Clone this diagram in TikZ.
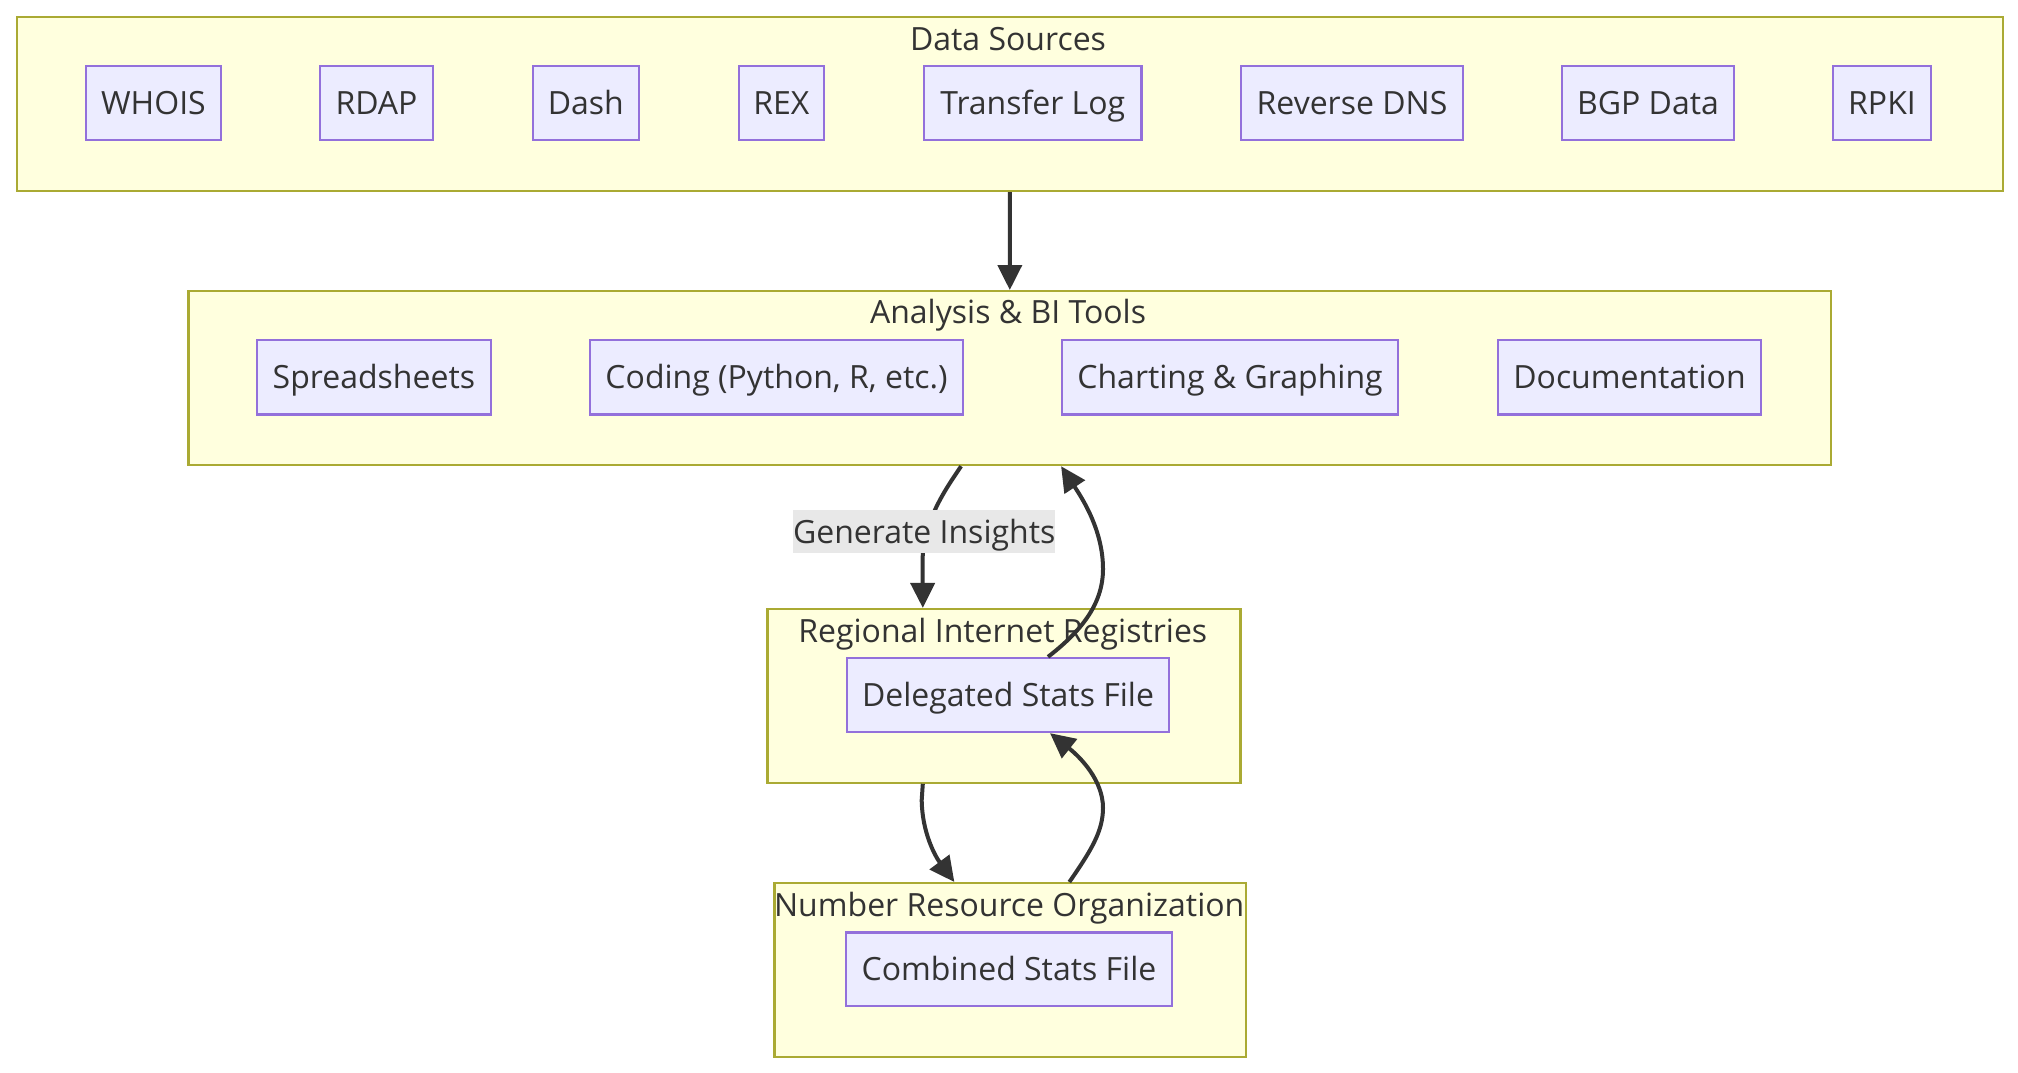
\documentclass[tikz,border=0pt]{standalone}
\usepackage{fontspec}
\setmainfont{Open Sans}
\usetikzlibrary{arrows.meta}
\definecolor{clfill}{HTML}{FFFFDE}
\definecolor{cldraw}{HTML}{AAAA33}
\definecolor{ndfill}{HTML}{ECECFF}
\definecolor{nddraw}{HTML}{9370DB}
\definecolor{txt}{HTML}{333333}
\definecolor{lblbg}{HTML}{E8E8E8}
\tikzset{
  fnt/.style={font=\fontsize{32}{38}\selectfont, text height=22.8pt, text depth=0pt},
  cluster/.style={draw=cldraw, fill=clfill, line width=2.2pt, inner sep=0pt, anchor=north west},
  cltitle/.style={text=txt, inner sep=0pt, fnt},
  nodebox/.style={draw=nddraw, fill=ndfill, line width=2.2pt, inner sep=0pt, text=txt, fnt},
  edge/.style={draw=txt, line width=4pt, -{Triangle[length=25pt,width=24pt]}},
  lbl/.style={fill=lblbg, text=txt, inner sep=0pt, fnt}
}
\begin{document}
\begin{tikzpicture}[x=1pt,y=-1pt]
\useasboundingbox (0,0) rectangle (2018,1072);
% clusters
\node[cluster, minimum width=1986.5pt, minimum height=174.4pt] (ds) at (15.5,15.6) {};
\node[cltitle] (dst) at (1008,39.2) {Data Sources};
\node[cluster, minimum width=1642.6pt, minimum height=174pt] (ana) at (187.4,290) {};
\node[cltitle] (anat) at (1008,312.5) {Analysis \& BI Tools};
\node[cluster, minimum width=473pt, minimum height=173.7pt] (rir) at (766.3,607.9) {};
\node[cltitle] (rirt) at (1002.8,631) {Regional Internet Registries};
\node[cluster, minimum width=471.7pt, minimum height=173.8pt] (nro) at (773.3,882) {};
\node[cltitle] (nrot) at (1009.2,904.8) {Number Resource Organization};
% data source nodes
\node[nodebox, minimum width=135.3pt, minimum height=74.3pt] (whois) at (153.4,102.9) {WHOIS};
\node[nodebox, minimum width=113pt, minimum height=74.3pt] (rdap) at (376.5,102.9) {RDAP};
\node[nodebox, minimum width=106.4pt, minimum height=74.3pt] (dash) at (585.8,102.9) {Dash};
\node[nodebox, minimum width=85.3pt, minimum height=74.3pt] (rex) at (781.4,102.9) {REX};
\node[nodebox, minimum width=217.5pt, minimum height=74.3pt] (tlog) at (1032.8,102.9) {Transfer Log};
\node[nodebox, minimum width=222pt, minimum height=74.3pt] (rdns) at (1352,102.9) {Reverse DNS};
\node[nodebox, minimum width=172pt, minimum height=74.3pt] (bgp) at (1648,102.9) {BGP Data};
\node[nodebox, minimum width=98pt, minimum height=74.3pt] (rpki) at (1882,102.9) {RPKI};
% analysis nodes
\node[nodebox, minimum width=233.7pt, minimum height=74.6pt] (sheets) at (373.9,377.1) {Spreadsheets};
\node[nodebox, minimum width=373pt, minimum height=74.6pt] (coding) at (776.5,377.1) {Coding (Python, R, etc.)};
\node[nodebox, minimum width=336pt, minimum height=74.6pt] (chart) at (1230,377.1) {Charting \& Graphing};
\node[nodebox, minimum width=263pt, minimum height=74.6pt] (docs) at (1629.5,377.1) {Documentation};
% RIR / NRO nodes
\node[nodebox, minimum width=322.6pt, minimum height=74.1pt] (del) at (1008,695) {Delegated Stats File};
\node[nodebox, minimum width=325.4pt, minimum height=73.8pt] (comb) at (1009,969.3) {Combined Stats File};
% edges
\draw[edge] (ds.south) -- (ana.north);
\draw[edge] ([xshift=-48.7pt]ana.south) .. controls (945,490) and (924,520) .. (922.5,560) -- ([xshift=-81.1pt]rir.north);
\node[lbl, minimum width=261.7pt, minimum height=42.8pt] (gi) at (924.2,531.7) {Generate Insights};
\draw[edge] ([xshift=40pt]del.north) .. controls (1080,632) and (1103,605) .. (1103,569) .. controls (1103,530) and (1082,498) .. ([xshift=51.3pt]ana.south);
\draw[edge] ([xshift=-81.1pt]rir.south) -- (921.7,800) .. controls (922,832) and (935,856) .. ([xshift=-55.9pt]nro.north);
\draw[edge] ([xshift=59.1pt]nro.north) .. controls (1090,852) and (1103,832) .. (1103,808) .. controls (1103,780) and (1080,757) .. ([xshift=42pt]del.south);
\end{tikzpicture}
\end{document}
